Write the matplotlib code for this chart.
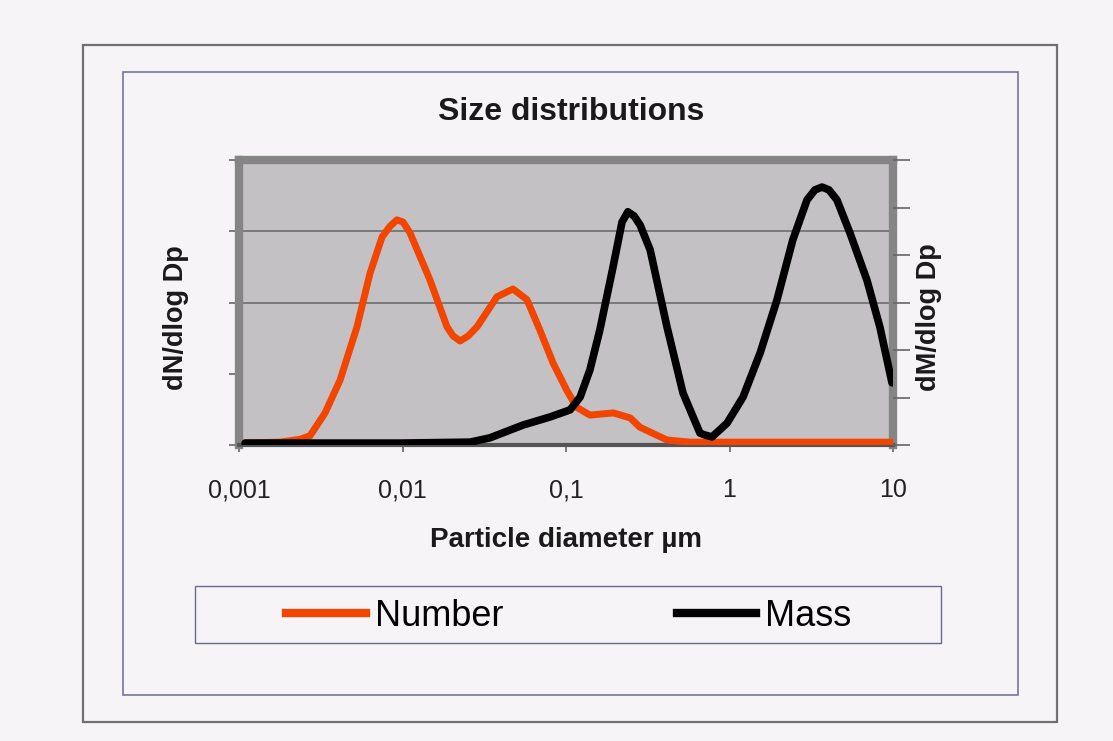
import matplotlib
matplotlib.use("Agg")
import matplotlib.pyplot as plt
from matplotlib.patches import Rectangle
from matplotlib.lines import Line2D

plt.rcParams['font.family'] = ['Liberation Sans', 'DejaVu Sans']

# particle diameter (um) and dN/dlogDp (left axis units)
num_d = [0.00109, 0.00178, 0.00236, 0.00272, 0.00336, 0.00415, 0.00527, 0.00633,
         0.0075, 0.00839, 0.00925, 0.01007, 0.0111, 0.0147, 0.0187, 0.0204, 0.0225,
         0.0252, 0.0286, 0.0378, 0.0474, 0.0577, 0.0693, 0.0834, 0.101, 0.116,
         0.140, 0.195, 0.247, 0.283, 0.415, 0.574, 10.0]
num_y = [0.03, 0.04, 0.08, 0.13, 0.45, 0.91, 1.66, 2.41,
         2.92, 3.07, 3.16, 3.13, 2.98, 2.32, 1.66, 1.53, 1.46,
         1.53, 1.66, 2.08, 2.19, 2.04, 1.61, 1.15, 0.77, 0.53,
         0.42, 0.45, 0.38, 0.25, 0.07, 0.04, 0.04]

# particle diameter (um) and dM/dlogDp (right axis units)
mass_d = [0.00109, 0.00966, 0.0259, 0.0342, 0.0546, 0.0798, 0.106, 0.122, 0.140,
          0.161, 0.194, 0.220, 0.239, 0.261, 0.284, 0.327, 0.415, 0.520, 0.660,
          0.708, 0.782, 0.966, 1.21, 1.54, 1.95, 2.44, 2.98, 3.33, 3.68, 4.06,
          4.54, 5.46, 6.93, 8.32, 9.86]
mass_y = [0.04, 0.04, 0.06, 0.15, 0.42, 0.59, 0.74, 1.01, 1.58,
          2.42, 3.75, 4.69, 4.91, 4.82, 4.63, 4.11, 2.48, 1.09, 0.25,
          0.21, 0.17, 0.46, 1.01, 1.94, 3.05, 4.32, 5.16, 5.37, 5.43, 5.37,
          5.16, 4.46, 3.47, 2.48, 1.31]

xticks = [0.001, 0.01, 0.1, 1, 10]
xlabels = ["0,001", "0,01", "0,1", "1", "10"]

W, H = 1113, 741
fig = plt.figure(figsize=(W / 100, H / 100), dpi=100, facecolor="#f6f4f6")

def fx(px):
    return px / W

def fy(py):
    return 1 - py / H

# outer frames
fig.patches.append(Rectangle((fx(83), fy(722)), fx(1057) - fx(83), fy(45) - fy(722),
                             transform=fig.transFigure, fill=False, ec="#707070", lw=1.6))
fig.patches.append(Rectangle((fx(123), fy(695)), fx(1018) - fx(123), fy(72) - fy(695),
                             transform=fig.transFigure, fill=False, ec="#75759a", lw=1.2))
# legend box
fig.patches.append(Rectangle((fx(195), fy(643)), fx(941) - fx(195), fy(586) - fy(643),
                             transform=fig.transFigure, fill=False, ec="#6a6a90", lw=1.0))

ax = fig.add_axes([fx(239), fy(445), fx(893) - fx(239), fy(160) - fy(445)])
ax.set_facecolor("#c3c1c3")
ax.set_xscale("log")
ax.set_xlim(0.001, 10)
ax.set_ylim(0, 4)
for y in [2, 3]:
    ax.axhline(y, color="#6e6e6e", lw=1.2, zorder=1)

ax2 = ax.twinx()
ax2.set_ylim(0, 6)

ax.plot(num_d, num_y, color="#f24500", lw=5, solid_joinstyle="round",
        solid_capstyle="round", zorder=3)
ax2.plot(mass_d, mass_y, color="black", lw=5.5, solid_joinstyle="round",
         solid_capstyle="round", zorder=3)

ax.set_xticks(xticks)
ax.set_xticklabels(xlabels, fontsize=18, color="#222222")
ax.xaxis.set_minor_locator(matplotlib.ticker.NullLocator())
ax.tick_params(axis="x", direction="out", length=5, width=1.2, color="#666666", pad=19)
ax.set_yticks([0, 1, 2, 3, 4])
ax.set_yticklabels([])
ax.tick_params(axis="y", direction="out", length=7, width=1.2, color="#666666")
ax2.set_yticks([0, 1, 2, 3, 4, 5, 6])
ax2.set_yticklabels([])
ax2.tick_params(axis="y", direction="out", length=12, width=1.2, color="#666666")

for s in ["left", "top", "right"]:
    ax.spines[s].set_color("#858585")
    ax.spines[s].set_linewidth(6)
ax.spines["bottom"].set_color("#555555")
ax.spines["bottom"].set_linewidth(3)
for s in ax2.spines.values():
    s.set_visible(False)

fig.text(fx(571), fy(112), "Size distributions", ha="center", va="center",
         fontsize=23, fontweight="bold", color="#1a1a1a")
fig.text(fx(566), fy(540), "Particle diameter µm", ha="center", va="center",
         fontsize=20, fontweight="bold", color="#1a1a1a")
fig.text(fx(176), fy(318), "dN/dlog Dp", ha="center", va="center", rotation=90,
         fontsize=19.5, fontweight="bold", color="#1a1a1a")
fig.text(fx(929), fy(317), "dM/dlog Dp", ha="center", va="center", rotation=90,
         fontsize=19.5, fontweight="bold", color="#1a1a1a")

handles = [Line2D([], [], color="#f24500", lw=6), Line2D([], [], color="black", lw=6)]
fig.legend(handles, ["Number", "Mass"], loc="center", ncol=2,
           bbox_to_anchor=(fx(569), fy(616)), frameon=False, fontsize=26,
           handlelength=2.2, handletextpad=0.25, columnspacing=4.8)

fig.savefig("out.png", dpi=100, facecolor=fig.get_facecolor())
